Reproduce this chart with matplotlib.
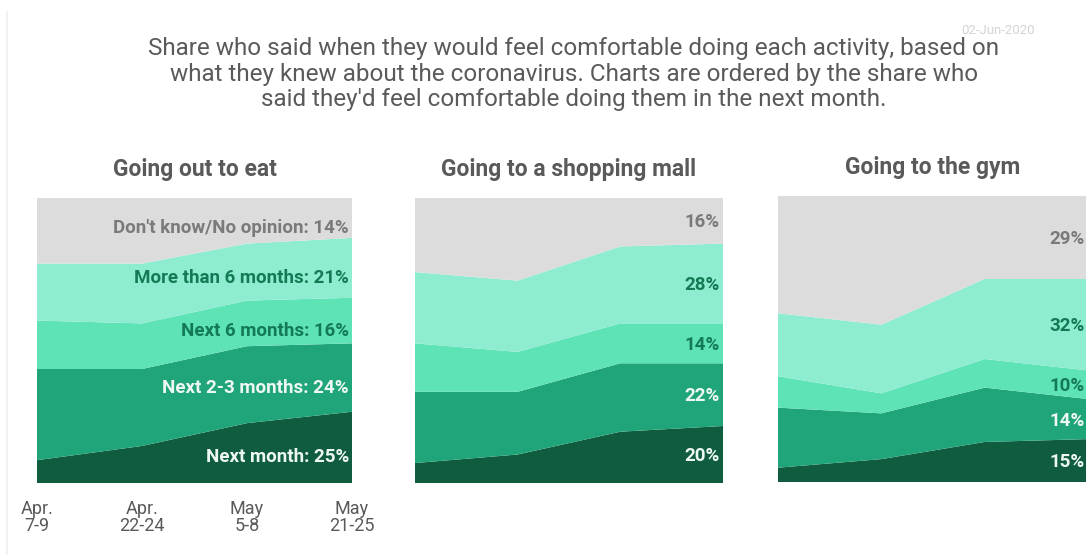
import numpy as np
import matplotlib.pyplot as plt

plt.rcParams["font.family"] = ["Roboto", "DejaVu Sans"]

# survey waves
waves = ["Apr.\n7-9", "Apr.\n22-24", "May\n5-8", "May\n21-25"]

# share (%) by answer, one list per wave
eat_next_month = [8, 13, 21, 25]
eat_2_3_months = [32, 27, 27, 24]
eat_6_months = [17, 16, 16, 16]
eat_more_6 = [20, 21, 20, 21]
eat_dont_know = [23, 23, 16, 14]

mall_next_month = [7, 10, 18, 20]
mall_2_3_months = [25, 22, 24, 22]
mall_6_months = [17, 14, 14, 14]
mall_more_6 = [25, 25, 27, 28]
mall_dont_know = [26, 29, 17, 16]

gym_next_month = [5, 8, 14, 15]
gym_2_3_months = [21, 16, 19, 14]
gym_6_months = [11, 7, 10, 10]
gym_more_6 = [22, 24, 28, 32]
gym_dont_know = [41, 45, 29, 29]

answers = ["Next month", "Next 2-3 months", "Next 6 months",
           "More than 6 months", "Don't know/No opinion"]
colors = ["#0f5c3f", "#1fa579", "#5de3b6", "#8eecd0", "#dcdcdc"]
label_colors = ["#eef8f3", "#eef8f3", "#137a55", "#137a55", "#7a7a7a"]

panels = [
    ("Going out to eat",
     [eat_next_month, eat_2_3_months, eat_6_months, eat_more_6, eat_dont_know]),
    ("Going to a shopping mall",
     [mall_next_month, mall_2_3_months, mall_6_months, mall_more_6, mall_dont_know]),
    ("Going to the gym",
     [gym_next_month, gym_2_3_months, gym_6_months, gym_more_6, gym_dont_know]),
]

W, H = 1086, 555
fig = plt.figure(figsize=(W / 100, H / 100), dpi=100)

# axes boxes in pixels: left, top, width, height
boxes = [(37, 198, 315, 285), (415, 198, 308, 285), (778, 196, 310, 286)]

x = np.arange(len(waves))
for i, ((title, series), (l, t, w, h)) in enumerate(zip(panels, boxes)):
    ax = fig.add_axes([l / W, 1 - (t + h) / H, w / W, h / H])
    ax.stackplot(x, *series, colors=colors, linewidth=0)
    ax.set_xlim(0, 3)
    ax.set_ylim(0, 100)
    for s in ax.spines.values():
        s.set_visible(False)
    ax.set_yticks([])
    if i == 0:
        ax.set_xticks(x)
        ax.set_xticklabels(waves, fontsize=13, color="#5a5a5a", linespacing=0.95)
        ax.tick_params(axis="x", length=0, pad=12)
    else:
        ax.set_xticks([])
    ax.set_title(title, fontsize=16.5, fontweight="bold", color="#5a5a5a", pad=16)

    # end labels
    cum = 0
    for k, vals in enumerate(series):
        last = vals[-1]
        mid = cum + last / 2
        cum += last
        txt = f"{answers[k]}: {last}%" if i == 0 else f"{last}%"
        off = 3.5 if i == 0 else 0.5
        ax.text(2.97, mid - off, txt, ha="right", va="center", fontsize=13.5,
                fontweight="bold", color=label_colors[k])

fig.text(574 / W, 1 - 74 / H,
         "Share who said when they would feel comfortable doing each activity, based on\n"
         "what they knew about the coronavirus. Charts are ordered by the share who\n"
         "said they'd feel comfortable doing them in the next month.",
         ha="center", va="center", fontsize=17.5, color="#5a5a5a", linespacing=1.16)
fig.text(1035 / W, 1 - 30 / H, "02-Jun-2020", ha="right", va="center",
         fontsize=9.5, color="#d4d4d4")
fig.add_artist(plt.Line2D([7 / W, 7 / W], [0, 1 - 12 / H], color="#efefef", lw=1.2))

fig.savefig("out.png", dpi=100, facecolor="white")
